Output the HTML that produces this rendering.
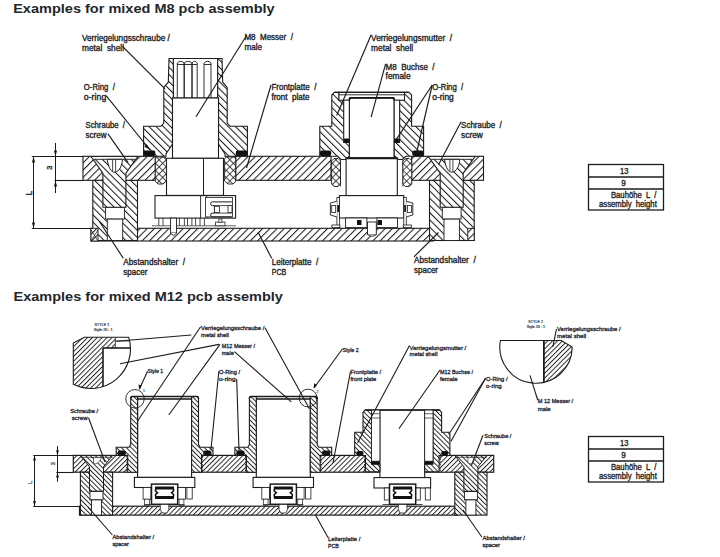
<!DOCTYPE html>
<html><head><meta charset="utf-8"><style>
html,body{margin:0;padding:0;background:#fff;width:720px;height:557px;overflow:hidden}
svg{display:block}
text{font-family:"Liberation Sans",sans-serif}
</style></head><body>
<svg width="720" height="557" viewBox="0 0 720 557">
<defs>
<pattern id="hb1" patternUnits="userSpaceOnUse" width="5.1" height="20" patternTransform="rotate(-45)"><rect width="5.1" height="20" fill="#fff"/><line x1="0.5" y1="0" x2="0.5" y2="20" stroke="#151515" stroke-width="1.0"/></pattern>
<pattern id="hf1" patternUnits="userSpaceOnUse" width="5.1" height="20" patternTransform="rotate(45)"><rect width="5.1" height="20" fill="#fff"/><line x1="0.5" y1="0" x2="0.5" y2="20" stroke="#151515" stroke-width="1.0"/></pattern>
<pattern id="hx1" patternUnits="userSpaceOnUse" width="5" height="5" patternTransform="rotate(45)"><rect width="5" height="5" fill="#fff"/><path d="M0.5,0 V5 M0,0.5 H5" stroke="#222" stroke-width="0.8"/></pattern>
<pattern id="hb2" patternUnits="userSpaceOnUse" width="3.45" height="20" patternTransform="rotate(-45)"><rect width="3.45" height="20" fill="#fff"/><line x1="0.5" y1="0" x2="0.5" y2="20" stroke="#151515" stroke-width="0.9"/></pattern>
<pattern id="hf2" patternUnits="userSpaceOnUse" width="3.45" height="20" patternTransform="rotate(45)"><rect width="3.45" height="20" fill="#fff"/><line x1="0.5" y1="0" x2="0.5" y2="20" stroke="#151515" stroke-width="0.9"/></pattern>
<pattern id="hx2" patternUnits="userSpaceOnUse" width="3.2" height="3.2" patternTransform="rotate(45)"><rect width="3.2" height="3.2" fill="#fff"/><path d="M0.5,0 V3.2 M0,0.5 H3.2" stroke="#222" stroke-width="0.7"/></pattern>
</defs>
<text xml:space="preserve" x="13.2" y="13.2" font-size="13" font-weight="bold" fill="#23262b" textLength="261.5" lengthAdjust="spacingAndGlyphs" >Examples for mixed M8 pcb assembly</text>
<text xml:space="preserve" x="13.5" y="300.8" font-size="13" font-weight="bold" fill="#23262b" textLength="269.4" lengthAdjust="spacingAndGlyphs" >Examples for mixed M12 pcb assembly</text>
<rect x="91.0" y="228.3" width="342.2" height="12.7" fill="url(#hf1)" stroke="#1c1c1c" stroke-width="1.1"/>
<rect x="92.8" y="180.3" width="44.7" height="60.2" fill="url(#hb1)" stroke="#1c1c1c" stroke-width="1.1"/>
<rect x="105.6" y="207.2" width="18.8" height="11.9" fill="#fff" stroke="#1c1c1c" stroke-width="0.9"/>
<rect x="107.3" y="219.1" width="15.4" height="21.4" fill="#fff" stroke="#1c1c1c" stroke-width="0.9"/>
<rect x="429.5" y="180.3" width="44.7" height="60.2" fill="url(#hb1)" stroke="#1c1c1c" stroke-width="1.1"/>
<rect x="442.3" y="207.2" width="18.8" height="11.9" fill="#fff" stroke="#1c1c1c" stroke-width="0.9"/>
<rect x="444.0" y="219.1" width="15.4" height="21.4" fill="#fff" stroke="#1c1c1c" stroke-width="0.9"/>
<rect x="91.0" y="228.3" width="7.0" height="12.7" fill="url(#hf1)" stroke="#1c1c1c" stroke-width="0.9"/>
<path d="M91,241 L98,230 M91,230 L98,241" stroke="#1c1c1c" stroke-width="0.8"/>
<rect x="467.8" y="228.3" width="6.4" height="12.2" fill="url(#hf1)" stroke="#1c1c1c" stroke-width="0.9"/>
<rect x="83.0" y="156.3" width="72.3" height="24.0" fill="url(#hf1)" stroke="#1c1c1c" stroke-width="1.1"/>
<rect x="235.7" y="156.3" width="95.3" height="24.0" fill="url(#hf1)" stroke="#1c1c1c" stroke-width="1.1"/>
<rect x="411.6" y="156.3" width="71.9" height="24.0" fill="url(#hf1)" stroke="#1c1c1c" stroke-width="1.1"/>
<polygon points="91.1,156.5 137.7,156.5 125.9,173.2 125.9,207.2 102.9,207.2 102.9,173.2" fill="url(#hb1)" stroke="#1c1c1c" stroke-width="1.1" stroke-linejoin="miter" />
<polygon points="91.1,156.5 137.7,156.5 135.6,159.3 93.2,159.3" fill="#fff" stroke="#1c1c1c" stroke-width="0.9" stroke-linejoin="miter" />
<path d="M107.2,159.3 C108.4,168 111.4,172.2 114.4,172.2 C119.4,172.2 122.4,165 122.4,159.3 Z" fill="#fff" stroke="#1c1c1c" stroke-width="1.0"/>
<line x1="112.6" y1="159.5" x2="112.6" y2="171.5" stroke="#1c1c1c" stroke-width="0.8"/>
<line x1="115.6" y1="159.5" x2="115.6" y2="171.5" stroke="#1c1c1c" stroke-width="0.8"/>
<polygon points="428.4,156.5 475.0,156.5 463.2,173.2 463.2,207.2 440.2,207.2 440.2,173.2" fill="url(#hb1)" stroke="#1c1c1c" stroke-width="1.1" stroke-linejoin="miter" />
<polygon points="428.4,156.5 475.0,156.5 472.9,159.3 430.5,159.3" fill="#fff" stroke="#1c1c1c" stroke-width="0.9" stroke-linejoin="miter" />
<path d="M444.5,159.3 C445.7,168 448.7,172.2 451.7,172.2 C456.7,172.2 459.7,165 459.7,159.3 Z" fill="#fff" stroke="#1c1c1c" stroke-width="1.0"/>
<line x1="449.9" y1="159.5" x2="449.9" y2="171.5" stroke="#1c1c1c" stroke-width="0.8"/>
<line x1="452.9" y1="159.5" x2="452.9" y2="171.5" stroke="#1c1c1c" stroke-width="0.8"/>
<rect x="173.3" y="58.5" width="44.4" height="39.5" fill="#fff" stroke="#1c1c1c" stroke-width="1.0"/>
<path d="M177.3,98 L177.3,63 Q180.75,59.5 184.2,63 L184.2,98 M177.3,64.5 L184.2,64.5" fill="none" stroke="#1c1c1c" stroke-width="0.9"/>
<path d="M184.2,98 L184.2,63 Q188.1,59.5 192,63 L192,98 M184.2,64.5 L192,64.5" fill="none" stroke="#1c1c1c" stroke-width="0.9"/>
<path d="M192,98 L192,63 Q194.6,59.5 197.2,63 L197.2,98 M192,64.5 L197.2,64.5" fill="none" stroke="#1c1c1c" stroke-width="0.9"/>
<path d="M204,98 L204,63 Q207.5,59.5 211,63 L211,98 M204,64.5 L211,64.5" fill="none" stroke="#1c1c1c" stroke-width="0.9"/>
<polygon points="169.0,58.5 173.3,58.5 173.3,98.0 172.5,98.0 172.5,144.0 166.0,154.0 166.0,156.3 143.6,156.3 143.6,126.2 161.0,126.2 163.8,123.0 163.8,87.5 168.3,82.2" fill="url(#hb1)" stroke="#1c1c1c" stroke-width="1.1" stroke-linejoin="miter" />
<polygon points="222.0,58.5 217.7,58.5 217.7,98.0 218.5,98.0 218.5,144.0 225.0,154.0 225.0,156.3 247.4,156.3 247.4,126.2 230.0,126.2 227.2,123.0 227.2,87.5 222.7,82.2" fill="url(#hb1)" stroke="#1c1c1c" stroke-width="1.1" stroke-linejoin="miter" />
<line x1="169.0" y1="58.5" x2="222.0" y2="58.5" stroke="#1c1c1c" stroke-width="1.2"/>
<rect x="172.5" y="98.0" width="46.0" height="60.3" fill="#fff" stroke="#1c1c1c" stroke-width="1.1"/>
<rect x="166.5" y="158.3" width="57.0" height="37.1" fill="#fff" stroke="#1c1c1c" stroke-width="1.1"/>
<line x1="203.5" y1="158.3" x2="203.5" y2="195.6" stroke="#1c1c1c" stroke-width="1.0"/>
<polygon points="155.3,157.0 165.2,157.0 166.4,159.0 166.4,181.0 163.0,184.0 158.0,184.0 155.3,181.5" fill="url(#hx1)" stroke="#1c1c1c" stroke-width="0.9" stroke-linejoin="miter" />
<polygon points="235.7,157.0 225.8,157.0 224.6,159.0 224.6,181.0 228.0,184.0 233.0,184.0 235.7,181.5" fill="url(#hx1)" stroke="#1c1c1c" stroke-width="0.9" stroke-linejoin="miter" />
<rect x="155.0" y="195.6" width="80.6" height="22.5" fill="#fff" stroke="#1c1c1c" stroke-width="1.1"/>
<line x1="200.6" y1="195.6" x2="200.6" y2="218.1" stroke="#1c1c1c" stroke-width="0.9"/>
<line x1="206.5" y1="196.0" x2="206.5" y2="218.1" stroke="#555" stroke-width="1.3"/>
<rect x="205.8" y="205.0" width="1.6" height="8.0" rx="0.3" fill="#111"/>
<rect x="205.6" y="197.5" width="26.9" height="19.4" fill="#fff" stroke="#1c1c1c" stroke-width="0.8"/>
<path d="M231.9,201.9 H212.5 Q210.6,201.9 210.6,203.7 Q210.6,205.6 212.5,205.6 H214.4 V213.1 H212.5 Q210.6,213.1 210.6,215 Q210.6,216.9 212.5,216.9 H231.9" fill="none" stroke="#1c1c1c" stroke-width="1.0"/>
<line x1="214.4" y1="205.6" x2="231.9" y2="205.6" stroke="#1c1c1c" stroke-width="0.8"/>
<line x1="214.4" y1="213.1" x2="231.9" y2="213.1" stroke="#1c1c1c" stroke-width="0.8"/>
<rect x="214.4" y="206.3" width="5.0" height="6.1" fill="#fff" stroke="#1c1c1c" stroke-width="0.8"/>
<rect x="228.0" y="205.6" width="4.0" height="6.8" fill="#fff" stroke="#1c1c1c" stroke-width="0.8"/>
<line x1="152.0" y1="225.8" x2="236.0" y2="225.8" stroke="#1c1c1c" stroke-width="0.7"/>
<line x1="158.8" y1="218.1" x2="158.8" y2="225.8" stroke="#1c1c1c" stroke-width="0.8"/>
<line x1="163.0" y1="218.1" x2="163.0" y2="225.8" stroke="#1c1c1c" stroke-width="0.8"/>
<line x1="179.4" y1="218.1" x2="179.4" y2="225.8" stroke="#1c1c1c" stroke-width="0.8"/>
<line x1="184.4" y1="218.1" x2="184.4" y2="225.8" stroke="#1c1c1c" stroke-width="0.8"/>
<line x1="187.5" y1="218.1" x2="187.5" y2="225.8" stroke="#1c1c1c" stroke-width="0.8"/>
<line x1="191.9" y1="218.1" x2="191.9" y2="225.8" stroke="#1c1c1c" stroke-width="0.8"/>
<line x1="195.6" y1="218.1" x2="195.6" y2="225.8" stroke="#1c1c1c" stroke-width="0.8"/>
<line x1="200.0" y1="218.1" x2="200.0" y2="225.8" stroke="#1c1c1c" stroke-width="0.8"/>
<line x1="204.4" y1="218.1" x2="204.4" y2="225.8" stroke="#1c1c1c" stroke-width="0.8"/>
<rect x="170.6" y="218.1" width="5.9" height="14.9" fill="#fff" stroke="#1c1c1c" stroke-width="0.9"/>
<path d="M170.6,233 Q173.5,237.5 176.5,233" fill="#fff" stroke="#1c1c1c" stroke-width="0.9"/>
<rect x="215.6" y="222.1" width="9.4" height="3.7" fill="#fff" stroke="#1c1c1c" stroke-width="0.8"/>
<rect x="218.8" y="219.1" width="3.2" height="3.0" fill="#fff" stroke="#1c1c1c" stroke-width="0.7"/>
<rect x="143.6" y="150.4" width="11.7" height="5.6" rx="1.5" fill="#111"/>
<rect x="235.8" y="150.4" width="11.6" height="5.6" rx="1.5" fill="#111"/>
<polygon points="331.8,95.0 334.5,92.2 339.0,92.2 339.0,100.2 343.8,100.2 343.8,142.5 349.4,142.5 349.4,156.3 345.5,159.5 341.0,159.5 337.5,156.3 319.8,156.3 319.8,126.2 331.8,126.2" fill="url(#hb1)" stroke="#1c1c1c" stroke-width="1.1" stroke-linejoin="miter" />
<polygon points="411.6,95.0 408.9,92.2 404.4,92.2 404.4,100.2 399.6,100.2 399.6,142.5 394.0,142.5 394.0,156.3 397.9,159.5 402.4,159.5 405.9,156.3 423.6,156.3 423.6,126.2 411.6,126.2" fill="url(#hb1)" stroke="#1c1c1c" stroke-width="1.1" stroke-linejoin="miter" />
<rect x="339.0" y="92.2" width="65.4" height="8.0" fill="#fff" stroke="#1c1c1c" stroke-width="0.9"/>
<line x1="334.5" y1="92.3" x2="408.9" y2="92.3" stroke="#1c1c1c" stroke-width="1.3"/>
<line x1="339.0" y1="94.8" x2="404.4" y2="94.8" stroke="#1c1c1c" stroke-width="0.9"/>
<rect x="343.8" y="100.2" width="5.6" height="42.3" fill="#fff" stroke="#1c1c1c" stroke-width="0.9"/>
<rect x="394.0" y="100.2" width="5.6" height="42.3" fill="#fff" stroke="#1c1c1c" stroke-width="0.9"/>
<rect x="349.4" y="97.8" width="44.6" height="60.0" fill="#fff" stroke="#1c1c1c" stroke-width="1.1"/>
<path d="M349.4,100 Q349.4,97.8 351.6,97.8 L391.8,97.8 Q394,97.8 394,100" fill="none" stroke="#111" stroke-width="1.8"/>
<rect x="346.1" y="157.8" width="51.2" height="37.8" fill="#fff" stroke="#1c1c1c" stroke-width="1.1"/>
<line x1="346.1" y1="158.3" x2="397.3" y2="158.3" stroke="#1c1c1c" stroke-width="1.8"/>
<line x1="340.5" y1="159.5" x2="340.5" y2="186.5" stroke="#1c1c1c" stroke-width="0.8"/>
<line x1="402.9" y1="159.5" x2="402.9" y2="186.5" stroke="#1c1c1c" stroke-width="0.8"/>
<rect x="343.8" y="138.5" width="5.6" height="4.0" rx="1" fill="#111"/>
<rect x="394.0" y="138.5" width="5.6" height="4.0" rx="1" fill="#111"/>
<rect x="319.8" y="150.5" width="11.4" height="5.6" rx="2" fill="#111"/>
<rect x="412.2" y="150.5" width="11.4" height="5.6" rx="2" fill="#111"/>
<polygon points="334.1,158.5 338.0,158.5 340.5,161.0 340.5,184.0 338.0,186.5 334.1,186.5 331.6,184.0 331.6,161.0" fill="url(#hx1)" stroke="#1c1c1c" stroke-width="0.9" stroke-linejoin="miter" />
<polygon points="405.4,158.5 409.3,158.5 411.8,161.0 411.8,184.0 409.3,186.5 405.4,186.5 402.9,184.0 402.9,161.0" fill="url(#hx1)" stroke="#1c1c1c" stroke-width="0.9" stroke-linejoin="miter" />
<rect x="339.4" y="195.6" width="64.4" height="22.4" fill="#fff" stroke="#1c1c1c" stroke-width="1.1"/>
<rect x="345.6" y="218.0" width="21.3" height="9.6" fill="#fff" stroke="#1c1c1c" stroke-width="0.9"/>
<rect x="376.9" y="218.0" width="20.6" height="9.6" fill="#fff" stroke="#1c1c1c" stroke-width="0.9"/>
<rect x="357.0" y="220.0" width="4.5" height="5.0" rx="0.5" fill="#111"/>
<rect x="377.5" y="220.0" width="4.5" height="5.0" rx="0.5" fill="#111"/>
<rect x="367.5" y="222.0" width="8.8" height="12.5" fill="#fff" stroke="#1c1c1c" stroke-width="0.9"/>
<path d="M367.5,234.5 Q372,238 376.3,234.5" fill="#fff" stroke="#1c1c1c" stroke-width="0.9"/>
<rect x="336.9" y="197.5" width="2.5" height="30.1" fill="#fff" stroke="#1c1c1c" stroke-width="0.8"/>
<path d="M336.9,201.3 L330.4,203 L330.4,215 L336.9,216.9" fill="#fff" stroke="#1c1c1c" stroke-width="0.9"/>
<rect x="331.7" y="205.5" width="4.0" height="7.0" fill="#fff" stroke="#1c1c1c" stroke-width="0.8"/>
<rect x="337.3" y="205.0" width="1.7" height="7.0" rx="0.2" fill="#111"/>
<rect x="331.9" y="225.0" width="8.0" height="2.6" fill="#fff" stroke="#1c1c1c" stroke-width="0.8"/>
<rect x="403.8" y="197.5" width="2.5" height="30.1" fill="#fff" stroke="#1c1c1c" stroke-width="0.8"/>
<path d="M406.3,201.3 L412.8,203 L412.8,215 L406.3,216.9" fill="#fff" stroke="#1c1c1c" stroke-width="0.9"/>
<rect x="407.5" y="205.5" width="4.0" height="7.0" fill="#fff" stroke="#1c1c1c" stroke-width="0.8"/>
<rect x="404.2" y="205.0" width="1.7" height="7.0" rx="0.2" fill="#111"/>
<rect x="403.3" y="225.0" width="8.0" height="2.6" fill="#fff" stroke="#1c1c1c" stroke-width="0.8"/>
<line x1="31.8" y1="156.5" x2="83.0" y2="156.5" stroke="#1c1c1c" stroke-width="1.1"/>
<line x1="54.5" y1="180.5" x2="83.0" y2="180.5" stroke="#1c1c1c" stroke-width="1.1"/>
<line x1="31.8" y1="228.5" x2="91.0" y2="228.5" stroke="#1c1c1c" stroke-width="1.1"/>
<line x1="33.5" y1="156.5" x2="33.5" y2="228.5" stroke="#1c1c1c" stroke-width="1.0"/>
<polygon points="33.5,156.5 32.0,162.5 35.0,162.5" fill="#111"/>
<polygon points="33.5,228.5 32.0,222.5 35.0,222.5" fill="#111"/>
<line x1="55.5" y1="143.0" x2="55.5" y2="193.0" stroke="#1c1c1c" stroke-width="1.0"/>
<polygon points="55.5,156.5 54.0,150.5 57.0,150.5" fill="#111"/>
<polygon points="55.5,180.5 54.0,186.5 57.0,186.5" fill="#111"/>
<text xml:space="preserve" x="0" y="0" font-size="8.5" font-weight="normal" fill="#222" stroke="#222" stroke-width="0.34" transform="translate(32.2,195.5) rotate(-90)">L</text>
<text xml:space="preserve" x="0" y="0" font-size="7.5" font-weight="normal" fill="#222" stroke="#222" stroke-width="0.34" transform="translate(52.4,169.8) rotate(-90)">3</text>
<rect x="588.5" y="164.5" width="75.0" height="45.5" fill="#fff" stroke="#1c1c1c" stroke-width="1.3"/>
<line x1="588.5" y1="177.0" x2="663.5" y2="177.0" stroke="#1c1c1c" stroke-width="1.3"/>
<line x1="588.5" y1="189.0" x2="663.5" y2="189.0" stroke="#1c1c1c" stroke-width="1.3"/>
<text xml:space="preserve" x="620" y="174.1" font-size="8.2" font-weight="normal" fill="#222" stroke="#222" stroke-width="0.34" textLength="8.4" lengthAdjust="spacingAndGlyphs" >13</text>
<text xml:space="preserve" x="621.3" y="185.5" font-size="8.2" font-weight="normal" fill="#222" stroke="#222" stroke-width="0.34" >9</text>
<text xml:space="preserve" x="611" y="197.5" font-size="8.2" font-weight="normal" fill="#222" stroke="#222" stroke-width="0.34" textLength="45.3" lengthAdjust="spacingAndGlyphs" >Bauhöhe  L  /</text>
<text xml:space="preserve" x="599" y="207.0" font-size="8.2" font-weight="normal" fill="#222" stroke="#222" stroke-width="0.34" textLength="57.8" lengthAdjust="spacingAndGlyphs" >assembly  height</text>
<line x1="122.5" y1="46.3" x2="165.0" y2="88.8" stroke="#1c1c1c" stroke-width="1.15"/>
<line x1="246.4" y1="35.8" x2="196.0" y2="116.8" stroke="#1c1c1c" stroke-width="1.15"/>
<line x1="106.3" y1="95.8" x2="150.0" y2="150.0" stroke="#1c1c1c" stroke-width="1.15"/>
<line x1="108.0" y1="133.8" x2="128.1" y2="162.7" stroke="#1c1c1c" stroke-width="1.15"/>
<line x1="271.0" y1="85.0" x2="246.5" y2="168.0" stroke="#1c1c1c" stroke-width="1.15"/>
<line x1="371.1" y1="35.0" x2="336.7" y2="115.5" stroke="#1c1c1c" stroke-width="1.15"/>
<line x1="385.6" y1="63.9" x2="371.1" y2="117.2" stroke="#1c1c1c" stroke-width="1.15"/>
<line x1="432.2" y1="85.0" x2="395.5" y2="140.6" stroke="#1c1c1c" stroke-width="1.15"/>
<line x1="432.2" y1="85.0" x2="417.0" y2="151.0" stroke="#1c1c1c" stroke-width="1.15"/>
<line x1="461.1" y1="121.7" x2="438.5" y2="164.7" stroke="#1c1c1c" stroke-width="1.15"/>
<line x1="123.3" y1="258.3" x2="99.6" y2="221.7" stroke="#1c1c1c" stroke-width="1.15"/>
<line x1="271.7" y1="258.3" x2="258.0" y2="232.0" stroke="#1c1c1c" stroke-width="1.15"/>
<line x1="414.0" y1="256.8" x2="438.5" y2="232.5" stroke="#1c1c1c" stroke-width="1.15"/>
<polygon points="149.5,149.5 144.2,146.5 146.8,144.2" fill="#111"/>
<text xml:space="preserve" x="82" y="40.8" font-size="8.4" font-weight="normal" fill="#222" stroke="#222" stroke-width="0.34" textLength="87.7" lengthAdjust="spacingAndGlyphs" >Verriegelungsschraube /</text>
<text xml:space="preserve" x="82" y="50.9" font-size="8.4" font-weight="normal" fill="#222" stroke="#222" stroke-width="0.34" textLength="42" lengthAdjust="spacingAndGlyphs" >metal  shell</text>
<text xml:space="preserve" x="244.4" y="39.6" font-size="8.4" font-weight="normal" fill="#222" stroke="#222" stroke-width="0.34" textLength="48.5" lengthAdjust="spacingAndGlyphs" >M8  Messer  /</text>
<text xml:space="preserve" x="244.4" y="50.0" font-size="8.4" font-weight="normal" fill="#222" stroke="#222" stroke-width="0.34" textLength="17.6" lengthAdjust="spacingAndGlyphs" >male</text>
<text xml:space="preserve" x="83.8" y="89.8" font-size="8.4" font-weight="normal" fill="#222" stroke="#222" stroke-width="0.34" textLength="31" lengthAdjust="spacingAndGlyphs" >O-Ring  /</text>
<text xml:space="preserve" x="83.8" y="99.8" font-size="8.4" font-weight="normal" fill="#222" stroke="#222" stroke-width="0.34" textLength="22.5" lengthAdjust="spacingAndGlyphs" >o-ring</text>
<text xml:space="preserve" x="85.5" y="127.8" font-size="8.4" font-weight="normal" fill="#222" stroke="#222" stroke-width="0.34" textLength="39.5" lengthAdjust="spacingAndGlyphs" >Schraube  /</text>
<text xml:space="preserve" x="85.5" y="137.8" font-size="8.4" font-weight="normal" fill="#222" stroke="#222" stroke-width="0.34" textLength="21" lengthAdjust="spacingAndGlyphs" >screw</text>
<text xml:space="preserve" x="271.4" y="90.0" font-size="8.4" font-weight="normal" fill="#222" stroke="#222" stroke-width="0.34" textLength="45" lengthAdjust="spacingAndGlyphs" >Frontplatte  /</text>
<text xml:space="preserve" x="271.4" y="100.0" font-size="8.4" font-weight="normal" fill="#222" stroke="#222" stroke-width="0.34" textLength="38" lengthAdjust="spacingAndGlyphs" >front  plate</text>
<text xml:space="preserve" x="371.1" y="40.8" font-size="8.4" font-weight="normal" fill="#222" stroke="#222" stroke-width="0.34" textLength="81" lengthAdjust="spacingAndGlyphs" >Verriegelungsmutter  /</text>
<text xml:space="preserve" x="371.1" y="50.8" font-size="8.4" font-weight="normal" fill="#222" stroke="#222" stroke-width="0.34" textLength="42" lengthAdjust="spacingAndGlyphs" >metal  shell</text>
<text xml:space="preserve" x="385.6" y="69.8" font-size="8.4" font-weight="normal" fill="#222" stroke="#222" stroke-width="0.34" textLength="49" lengthAdjust="spacingAndGlyphs" >M8  Buchse  /</text>
<text xml:space="preserve" x="385.6" y="78.8" font-size="8.4" font-weight="normal" fill="#222" stroke="#222" stroke-width="0.34" textLength="25" lengthAdjust="spacingAndGlyphs" >female</text>
<text xml:space="preserve" x="432.2" y="89.8" font-size="8.4" font-weight="normal" fill="#222" stroke="#222" stroke-width="0.34" textLength="31" lengthAdjust="spacingAndGlyphs" >O-Ring  /</text>
<text xml:space="preserve" x="432.2" y="99.8" font-size="8.4" font-weight="normal" fill="#222" stroke="#222" stroke-width="0.34" textLength="21.6" lengthAdjust="spacingAndGlyphs" >o-ring</text>
<text xml:space="preserve" x="461.1" y="127.6" font-size="8.4" font-weight="normal" fill="#222" stroke="#222" stroke-width="0.34" textLength="40.7" lengthAdjust="spacingAndGlyphs" >Schraube  /</text>
<text xml:space="preserve" x="461.1" y="137.6" font-size="8.4" font-weight="normal" fill="#222" stroke="#222" stroke-width="0.34" textLength="21.8" lengthAdjust="spacingAndGlyphs" >screw</text>
<text xml:space="preserve" x="123.3" y="265.4" font-size="8.4" font-weight="normal" fill="#222" stroke="#222" stroke-width="0.34" textLength="61.7" lengthAdjust="spacingAndGlyphs" >Abstandshalter  /</text>
<text xml:space="preserve" x="123.3" y="275.4" font-size="8.4" font-weight="normal" fill="#222" stroke="#222" stroke-width="0.34" textLength="24" lengthAdjust="spacingAndGlyphs" >spacer</text>
<text xml:space="preserve" x="271.7" y="265.4" font-size="8.4" font-weight="normal" fill="#222" stroke="#222" stroke-width="0.34" textLength="46.6" lengthAdjust="spacingAndGlyphs" >Leiterplatte  /</text>
<text xml:space="preserve" x="271.7" y="275.4" font-size="8.4" font-weight="normal" fill="#222" stroke="#222" stroke-width="0.34" textLength="14.5" lengthAdjust="spacingAndGlyphs" >PCB</text>
<text xml:space="preserve" x="414" y="263.0" font-size="8.4" font-weight="normal" fill="#222" stroke="#222" stroke-width="0.34" textLength="61.7" lengthAdjust="spacingAndGlyphs" >Abstandshalter  /</text>
<text xml:space="preserve" x="414" y="273.0" font-size="8.4" font-weight="normal" fill="#222" stroke="#222" stroke-width="0.34" textLength="24" lengthAdjust="spacingAndGlyphs" >spacer</text>
<rect x="79.5" y="506.2" width="378.3" height="8.9" fill="url(#hf2)" stroke="#1c1c1c" stroke-width="1.2"/>
<rect x="73.3" y="455.4" width="420.4" height="16.8" fill="url(#hf2)" stroke="#1c1c1c" stroke-width="1.2"/>
<rect x="80.4" y="472.2" width="32.2" height="42.9" fill="url(#hb2)" stroke="#1c1c1c" stroke-width="1.1"/>
<polygon points="80.5,455.6 112.5,455.6 103.5,466.8 103.5,491.2 89.5,491.2 89.5,466.8" fill="url(#hb2)" stroke="#1c1c1c" stroke-width="1.0" stroke-linejoin="miter" />
<rect x="90.0" y="491.5" width="13.0" height="8.4" fill="#fff" stroke="#1c1c1c" stroke-width="0.9"/>
<rect x="91.5" y="499.9" width="10.0" height="15.2" fill="#fff" stroke="#1c1c1c" stroke-width="0.9"/>
<line x1="80.5" y1="457.4" x2="112.5" y2="457.4" stroke="#1c1c1c" stroke-width="0.6"/>
<path d="M93.5,457.6 L93.5,463 Q97.5,466 101.5,457.6 Z" fill="#fff" stroke="#1c1c1c" stroke-width="0.6"/>
<rect x="454.8" y="472.2" width="32.2" height="42.9" fill="url(#hb2)" stroke="#1c1c1c" stroke-width="1.1"/>
<polygon points="454.9,455.6 486.9,455.6 477.9,466.8 477.9,491.2 463.9,491.2 463.9,466.8" fill="url(#hb2)" stroke="#1c1c1c" stroke-width="1.0" stroke-linejoin="miter" />
<rect x="464.4" y="491.5" width="13.0" height="8.4" fill="#fff" stroke="#1c1c1c" stroke-width="0.9"/>
<rect x="465.9" y="499.9" width="10.0" height="15.2" fill="#fff" stroke="#1c1c1c" stroke-width="0.9"/>
<line x1="454.9" y1="457.4" x2="486.9" y2="457.4" stroke="#1c1c1c" stroke-width="0.6"/>
<path d="M467.9,457.6 L467.9,463 Q471.9,466 475.9,457.6 Z" fill="#fff" stroke="#1c1c1c" stroke-width="0.6"/>
<rect x="137.6" y="399.0" width="54.0" height="78.4" fill="#fff" stroke="#1c1c1c" stroke-width="1.1"/>
<polygon points="130.7,398.2 132.2,396.5 137.6,396.5 137.6,472.2 127.7,472.2 127.7,455.4 116.2,455.4 116.2,447.2 129.1,447.2 130.7,444.5" fill="url(#hb2)" stroke="#1c1c1c" stroke-width="1.1" stroke-linejoin="miter" />
<polygon points="198.5,398.2 197.0,396.5 191.6,396.5 191.6,472.2 201.5,472.2 201.5,455.4 213.0,455.4 213.0,447.2 200.1,447.2 198.5,444.5" fill="url(#hb2)" stroke="#1c1c1c" stroke-width="1.1" stroke-linejoin="miter" />
<path d="M130.65,399 L130.65,398 Q130.65,396.5 132.15,396.5 L196.95000000000002,396.5 Q198.45000000000002,396.5 198.45000000000002,398 L198.45000000000002,399" fill="none" stroke="#1c1c1c" stroke-width="1.4"/>
<line x1="137.6" y1="399.0" x2="191.6" y2="399.0" stroke="#1c1c1c" stroke-width="1.1"/>
<rect x="117.6" y="450.6" width="8.3" height="4.8" rx="2.2" fill="#111"/>
<rect x="203.2" y="450.6" width="8.3" height="4.8" rx="2.2" fill="#111"/>
<line x1="126.75000000000001" y1="456" x2="126.75000000000001" y2="472" stroke="#1c1c1c" stroke-width="0.9" stroke-dasharray="1.5,1.2"/>
<line x1="202.35000000000002" y1="456" x2="202.35000000000002" y2="472" stroke="#1c1c1c" stroke-width="0.9" stroke-dasharray="1.5,1.2"/>
<rect x="134.4" y="477.4" width="60.4" height="10.1" fill="#fff" stroke="#1c1c1c" stroke-width="1.1"/>
<rect x="143.1" y="487.5" width="7.8" height="11.7" fill="#fff" stroke="#1c1c1c" stroke-width="0.8"/>
<rect x="144.6" y="499.2" width="4.8" height="6.3" fill="#fff" stroke="#1c1c1c" stroke-width="0.7"/>
<rect x="177.6" y="487.5" width="7.8" height="11.7" fill="#fff" stroke="#1c1c1c" stroke-width="0.8"/>
<rect x="179.1" y="499.2" width="4.8" height="6.3" fill="#fff" stroke="#1c1c1c" stroke-width="0.7"/>
<rect x="186.9" y="487.5" width="5.3" height="11.5" fill="#fff" stroke="#1c1c1c" stroke-width="0.8"/>
<rect x="151.5" y="484.1" width="26.2" height="20.2" fill="#fff" stroke="#1c1c1c" stroke-width="1.5"/>
<rect x="155.05" y="486.5" width="19" height="3" fill="#111"/><rect x="155.05" y="496" width="19" height="3" fill="#111"/>
<path d="M155.55,489 V491 L157.55,492.7 L155.55,494.5 V496.5 M173.55,489 V491 L171.55,492.7 L173.55,494.5 V496.5" fill="none" stroke="#111" stroke-width="1.6"/>
<path d="M160.25,504.3 V509.5 L162.05,513 H167.05 L168.85000000000002,509.5 V504.3" fill="#fff" stroke="#1c1c1c" stroke-width="0.8"/>
<line x1="144.55" y1="504.5" x2="184.55" y2="504.5" stroke="#1c1c1c" stroke-width="0.8"/>
<rect x="256.3" y="399.0" width="54.0" height="78.4" fill="#fff" stroke="#1c1c1c" stroke-width="1.1"/>
<polygon points="249.4,398.2 250.9,396.5 256.3,396.5 256.3,472.2 246.4,472.2 246.4,455.4 234.9,455.4 234.9,447.2 247.8,447.2 249.4,444.5" fill="url(#hb2)" stroke="#1c1c1c" stroke-width="1.1" stroke-linejoin="miter" />
<polygon points="317.2,398.2 315.7,396.5 310.3,396.5 310.3,472.2 320.2,472.2 320.2,455.4 331.7,455.4 331.7,447.2 318.8,447.2 317.2,444.5" fill="url(#hb2)" stroke="#1c1c1c" stroke-width="1.1" stroke-linejoin="miter" />
<path d="M249.4,399 L249.4,398 Q249.4,396.5 250.9,396.5 L315.7,396.5 Q317.2,396.5 317.2,398 L317.2,399" fill="none" stroke="#1c1c1c" stroke-width="1.4"/>
<line x1="256.3" y1="399.0" x2="310.3" y2="399.0" stroke="#1c1c1c" stroke-width="1.1"/>
<rect x="236.3" y="450.6" width="8.3" height="4.8" rx="2.2" fill="#111"/>
<rect x="322.0" y="450.6" width="8.3" height="4.8" rx="2.2" fill="#111"/>
<line x1="245.5" y1="456" x2="245.5" y2="472" stroke="#1c1c1c" stroke-width="0.9" stroke-dasharray="1.5,1.2"/>
<line x1="321.1" y1="456" x2="321.1" y2="472" stroke="#1c1c1c" stroke-width="0.9" stroke-dasharray="1.5,1.2"/>
<rect x="253.1" y="477.4" width="60.4" height="10.1" fill="#fff" stroke="#1c1c1c" stroke-width="1.1"/>
<rect x="261.8" y="487.5" width="7.8" height="11.7" fill="#fff" stroke="#1c1c1c" stroke-width="0.8"/>
<rect x="263.3" y="499.2" width="4.8" height="6.3" fill="#fff" stroke="#1c1c1c" stroke-width="0.7"/>
<rect x="296.3" y="487.5" width="7.8" height="11.7" fill="#fff" stroke="#1c1c1c" stroke-width="0.8"/>
<rect x="297.8" y="499.2" width="4.8" height="6.3" fill="#fff" stroke="#1c1c1c" stroke-width="0.7"/>
<rect x="305.6" y="487.5" width="5.3" height="11.5" fill="#fff" stroke="#1c1c1c" stroke-width="0.8"/>
<rect x="270.2" y="484.1" width="26.2" height="20.2" fill="#fff" stroke="#1c1c1c" stroke-width="1.5"/>
<rect x="273.8" y="486.5" width="19" height="3" fill="#111"/><rect x="273.8" y="496" width="19" height="3" fill="#111"/>
<path d="M274.3,489 V491 L276.3,492.7 L274.3,494.5 V496.5 M292.3,489 V491 L290.3,492.7 L292.3,494.5 V496.5" fill="none" stroke="#111" stroke-width="1.6"/>
<path d="M279.0,504.3 V509.5 L280.8,513 H285.8 L287.6,509.5 V504.3" fill="#fff" stroke="#1c1c1c" stroke-width="0.8"/>
<line x1="263.3" y1="504.5" x2="303.3" y2="504.5" stroke="#1c1c1c" stroke-width="0.8"/>
<rect x="379.9" y="410.1" width="44.8" height="67.5" fill="#fff" stroke="#1c1c1c" stroke-width="1.1"/>
<polygon points="363.0,412.3 365.0,410.1 371.6,410.1 371.6,464.1 379.9,464.1 379.9,471.7 365.5,471.7 365.5,455.5 354.7,455.5 354.7,432.3 363.0,432.3" fill="url(#hb2)" stroke="#1c1c1c" stroke-width="1.1" stroke-linejoin="miter" />
<polygon points="441.6,412.3 439.6,410.1 433.0,410.1 433.0,464.1 424.7,464.1 424.7,471.7 439.1,471.7 439.1,455.5 449.9,455.5 449.9,432.3 441.6,432.3" fill="url(#hb2)" stroke="#1c1c1c" stroke-width="1.1" stroke-linejoin="miter" />
<line x1="365.0" y1="410.1" x2="439.6" y2="410.1" stroke="#1c1c1c" stroke-width="1.5"/>
<line x1="364.5" y1="456" x2="364.5" y2="471.5" stroke="#1c1c1c" stroke-width="0.9" stroke-dasharray="1.5,1.2"/>
<line x1="440.3" y1="456" x2="440.3" y2="471.5" stroke="#1c1c1c" stroke-width="0.9" stroke-dasharray="1.5,1.2"/>
<rect x="371.6" y="410.1" width="8.3" height="51.1" fill="#fff" stroke="#1c1c1c" stroke-width="0.8"/>
<line x1="371.6" y1="413.7" x2="379.9" y2="413.7" stroke="#1c1c1c" stroke-width="0.7"/>
<line x1="371.6" y1="418.0" x2="379.9" y2="418.0" stroke="#1c1c1c" stroke-width="0.7"/>
<rect x="371.6" y="461.2" width="8.3" height="3.0" rx="0.6" fill="#111"/>
<rect x="424.7" y="410.1" width="8.3" height="51.1" fill="#fff" stroke="#1c1c1c" stroke-width="0.8"/>
<line x1="424.7" y1="413.7" x2="433.0" y2="413.7" stroke="#1c1c1c" stroke-width="0.7"/>
<line x1="424.7" y1="418.0" x2="433.0" y2="418.0" stroke="#1c1c1c" stroke-width="0.7"/>
<rect x="424.7" y="461.2" width="8.3" height="3.0" rx="0.6" fill="#111"/>
<rect x="356.3" y="451.0" width="7.2" height="4.3" rx="2" fill="#111"/>
<rect x="441.1" y="451.0" width="7.2" height="4.3" rx="2" fill="#111"/>
<rect x="374.0" y="477.6" width="56.6" height="10.4" fill="#fff" stroke="#1c1c1c" stroke-width="1.1"/>
<rect x="384.3" y="488.0" width="5.0" height="12.0" fill="#fff" stroke="#1c1c1c" stroke-width="0.8"/>
<rect x="415.3" y="488.0" width="5.0" height="12.0" fill="#fff" stroke="#1c1c1c" stroke-width="0.8"/>
<rect x="425.3" y="488.0" width="5.0" height="12.0" fill="#fff" stroke="#1c1c1c" stroke-width="0.8"/>
<rect x="389.5" y="484.1" width="26.2" height="20.2" fill="#fff" stroke="#1c1c1c" stroke-width="1.5"/>
<rect x="393.1" y="486.5" width="19" height="3" fill="#111"/><rect x="393.1" y="496" width="19" height="3" fill="#111"/>
<path d="M393.6,489 V491 L395.6,492.7 L393.6,494.5 V496.5 M411.6,489 V491 L409.6,492.7 L411.6,494.5 V496.5" fill="none" stroke="#111" stroke-width="1.6"/>
<path d="M398.3,504.3 V509.5 L400.1,513 H405.1 L406.90000000000003,509.5 V504.3" fill="#fff" stroke="#1c1c1c" stroke-width="0.8"/>
<line x1="382.6" y1="504.5" x2="422.6" y2="504.5" stroke="#1c1c1c" stroke-width="0.8"/>
<line x1="33.3" y1="455.5" x2="73.3" y2="455.5" stroke="#1c1c1c" stroke-width="1.1"/>
<line x1="56.4" y1="472.5" x2="73.3" y2="472.5" stroke="#1c1c1c" stroke-width="1.1"/>
<line x1="33.3" y1="506.5" x2="80.6" y2="506.5" stroke="#1c1c1c" stroke-width="1.1"/>
<line x1="34.5" y1="455.4" x2="34.5" y2="506.3" stroke="#1c1c1c" stroke-width="1.0"/>
<polygon points="34.5,455.4 33.1,460.59999999999997 35.9,460.59999999999997" fill="#111"/>
<polygon points="34.5,506.3 33.1,501.1 35.9,501.1" fill="#111"/>
<line x1="57.5" y1="446.2" x2="57.5" y2="481.7" stroke="#1c1c1c" stroke-width="1.0"/>
<polygon points="57.5,455.4 56.1,450.2 58.9,450.2" fill="#111"/>
<polygon points="57.5,472.4 56.1,477.59999999999997 58.9,477.59999999999997" fill="#111"/>
<text xml:space="preserve" x="0" y="0" font-size="6" font-weight="normal" fill="#222" stroke="#222" stroke-width="0.15" transform="translate(32.3,484) rotate(-90)">L</text>
<text xml:space="preserve" x="0" y="0" font-size="5.5" font-weight="normal" fill="#222" stroke="#222" stroke-width="0.15" transform="translate(54.9,465.3) rotate(-90)">3</text>
<path d="M73.3,343 L84.4,337.3 L128.7,337.3 A39.5,39.5 0 0 1 73.3,384.3 Z" fill="url(#hf2)" stroke="none"/>
<path d="M103,348 L130.5,348 A39.5,39.5 0 0 1 103,386.6 Z" fill="#fff"/>
<path d="M115.3,337.3 L128.7,337.3 A39.5,39.5 0 0 1 130.5,348 L115.3,348 Z" fill="#fff"/>
<path d="M73.3,343 L84.4,337.3 L128.7,337.3 A39.5,39.5 0 0 1 73.3,384.3 Z" fill="none" stroke="#1c1c1c" stroke-width="1.1"/>
<line x1="103.0" y1="348.0" x2="103.0" y2="387.0" stroke="#1c1c1c" stroke-width="1.6"/>
<line x1="103.0" y1="348.0" x2="130.5" y2="348.0" stroke="#1c1c1c" stroke-width="1.6"/>
<line x1="115.3" y1="337.3" x2="115.3" y2="348.0" stroke="#1c1c1c" stroke-width="0.8"/>
<line x1="115.3" y1="341.0" x2="129.5" y2="341.0" stroke="#1c1c1c" stroke-width="0.8"/>
<text xml:space="preserve" x="94.5" y="325.8" font-size="3.6" font-weight="normal" fill="#222" stroke="#222" stroke-width="0.15" textLength="14.8" lengthAdjust="spacingAndGlyphs" >STYLE 1</text>
<text xml:space="preserve" x="93.8" y="330.6" font-size="3.6" font-weight="normal" fill="#222" stroke="#222" stroke-width="0.15" textLength="18.7" lengthAdjust="spacingAndGlyphs" >Style 20 : 1</text>
<path d="M543.9,340.5 L561.2,340.5 L572.2,347 A36.2,36.2 0 0 1 543.9,382.3 Z" fill="url(#hf2)"/>
<path d="M500.4,340.5 L561.2,340.5 L572.2,347 A36.2,36.2 0 1 1 500.4,340.5 Z" fill="none" stroke="#1c1c1c" stroke-width="1.1"/>
<line x1="543.9" y1="340.5" x2="543.9" y2="382.0" stroke="#1c1c1c" stroke-width="1.8"/>
<text xml:space="preserve" x="528.3" y="323.2" font-size="3.6" font-weight="normal" fill="#222" stroke="#222" stroke-width="0.15" textLength="14.7" lengthAdjust="spacingAndGlyphs" >STYLE 2</text>
<text xml:space="preserve" x="526.7" y="328.2" font-size="3.6" font-weight="normal" fill="#222" stroke="#222" stroke-width="0.15" textLength="18.3" lengthAdjust="spacingAndGlyphs" >Style 20 : 1</text>
<circle cx="135" cy="398.8" r="9.25" fill="none" stroke="#1c1c1c" stroke-width="0.9"/>
<circle cx="308.1" cy="398.1" r="8.9" fill="none" stroke="#1c1c1c" stroke-width="0.9"/>
<text xml:space="preserve" x="143" y="391.8" font-size="3.5" font-weight="normal" fill="#222" stroke="#222" stroke-width="0.1" >1</text>
<text xml:space="preserve" x="316.5" y="392.5" font-size="3.5" font-weight="normal" fill="#222" stroke="#222" stroke-width="0.1" >2</text>
<line x1="88.5" y1="417.8" x2="105.0" y2="462.0" stroke="#1c1c1c" stroke-width="1.1"/>
<line x1="112.4" y1="535.0" x2="88.3" y2="507.4" stroke="#1c1c1c" stroke-width="1.1"/>
<line x1="116.3" y1="341.3" x2="191.3" y2="335.0" stroke="#1c1c1c" stroke-width="1.1"/>
<line x1="120.0" y1="363.8" x2="219.0" y2="344.4" stroke="#1c1c1c" stroke-width="1.1"/>
<line x1="200.6" y1="326.7" x2="137.6" y2="421.0" stroke="#1c1c1c" stroke-width="1.1"/>
<line x1="220.0" y1="344.4" x2="168.8" y2="415.0" stroke="#1c1c1c" stroke-width="1.1"/>
<line x1="265.0" y1="327.8" x2="309.4" y2="408.8" stroke="#1c1c1c" stroke-width="1.1"/>
<line x1="234.4" y1="351.7" x2="291.3" y2="401.9" stroke="#1c1c1c" stroke-width="1.1"/>
<line x1="147.5" y1="371.3" x2="139.5" y2="389.0" stroke="#1c1c1c" stroke-width="1.1"/>
<line x1="342.5" y1="348.8" x2="314.0" y2="388.0" stroke="#1c1c1c" stroke-width="1.1"/>
<line x1="218.9" y1="371.0" x2="210.9" y2="450.0" stroke="#1c1c1c" stroke-width="1.1"/>
<line x1="236.7" y1="378.9" x2="239.0" y2="451.0" stroke="#1c1c1c" stroke-width="1.1"/>
<line x1="350.5" y1="371.3" x2="333.0" y2="463.0" stroke="#1c1c1c" stroke-width="1.1"/>
<line x1="409.5" y1="345.5" x2="357.5" y2="443.0" stroke="#1c1c1c" stroke-width="1.1"/>
<line x1="440.0" y1="370.0" x2="398.9" y2="428.7" stroke="#1c1c1c" stroke-width="1.1"/>
<line x1="485.7" y1="378.0" x2="450.3" y2="432.0" stroke="#1c1c1c" stroke-width="1.1"/>
<line x1="485.7" y1="378.0" x2="450.9" y2="441.5" stroke="#1c1c1c" stroke-width="1.1"/>
<line x1="483.0" y1="435.3" x2="471.3" y2="465.8" stroke="#1c1c1c" stroke-width="1.1"/>
<line x1="481.8" y1="537.0" x2="463.0" y2="510.0" stroke="#1c1c1c" stroke-width="1.1"/>
<line x1="328.0" y1="537.4" x2="315.6" y2="515.3" stroke="#1c1c1c" stroke-width="1.1"/>
<line x1="537.7" y1="400.0" x2="530.0" y2="375.4" stroke="#1c1c1c" stroke-width="1.1"/>
<line x1="556.5" y1="329.0" x2="552.8" y2="346.8" stroke="#1c1c1c" stroke-width="1.1"/>
<polygon points="139.2,389.8 138.6,384.5 141.6,385.5" fill="#111"/>
<polygon points="313.6,388.6 314.2,383.2 316.8,385" fill="#111"/>
<text xml:space="preserve" x="201.1" y="330.2" font-size="5.8" font-weight="normal" fill="#1e2430" stroke="#1e2430" stroke-width="0.3" textLength="63.3" lengthAdjust="spacingAndGlyphs" >Verriegelungsschraube /</text>
<text xml:space="preserve" x="201.1" y="336.9" font-size="5.8" font-weight="normal" fill="#1e2430" stroke="#1e2430" stroke-width="0.3" textLength="27.8" lengthAdjust="spacingAndGlyphs" >metal shell</text>
<text xml:space="preserve" x="221.7" y="348" font-size="5.8" font-weight="normal" fill="#1e2430" stroke="#1e2430" stroke-width="0.3" textLength="33.3" lengthAdjust="spacingAndGlyphs" >M12 Messer /</text>
<text xml:space="preserve" x="221.7" y="354.6" font-size="5.8" font-weight="normal" fill="#1e2430" stroke="#1e2430" stroke-width="0.3" textLength="12.2" lengthAdjust="spacingAndGlyphs" >male</text>
<text xml:space="preserve" x="147.5" y="373.3" font-size="5.8" font-weight="normal" fill="#1e2430" stroke="#1e2430" stroke-width="0.3" textLength="15.5" lengthAdjust="spacingAndGlyphs" >Style 1</text>
<text xml:space="preserve" x="218.9" y="374" font-size="5.8" font-weight="normal" fill="#1e2430" stroke="#1e2430" stroke-width="0.3" textLength="21.1" lengthAdjust="spacingAndGlyphs" >O-Ring /</text>
<text xml:space="preserve" x="218.9" y="381" font-size="5.8" font-weight="normal" fill="#1e2430" stroke="#1e2430" stroke-width="0.3" textLength="16.7" lengthAdjust="spacingAndGlyphs" >o-ring</text>
<text xml:space="preserve" x="70.2" y="413" font-size="5.8" font-weight="normal" fill="#1e2430" stroke="#1e2430" stroke-width="0.3" textLength="28" lengthAdjust="spacingAndGlyphs" >Schraube /</text>
<text xml:space="preserve" x="71.8" y="420" font-size="5.8" font-weight="normal" fill="#1e2430" stroke="#1e2430" stroke-width="0.3" textLength="15.7" lengthAdjust="spacingAndGlyphs" >screw</text>
<text xml:space="preserve" x="342.5" y="352" font-size="5.8" font-weight="normal" fill="#1e2430" stroke="#1e2430" stroke-width="0.3" textLength="16.2" lengthAdjust="spacingAndGlyphs" >Style 2</text>
<text xml:space="preserve" x="350.5" y="374" font-size="5.8" font-weight="normal" fill="#1e2430" stroke="#1e2430" stroke-width="0.3" textLength="30.7" lengthAdjust="spacingAndGlyphs" >Frontplatte /</text>
<text xml:space="preserve" x="350.5" y="381" font-size="5.8" font-weight="normal" fill="#1e2430" stroke="#1e2430" stroke-width="0.3" textLength="25.7" lengthAdjust="spacingAndGlyphs" >front plate</text>
<text xml:space="preserve" x="409.5" y="349.6" font-size="5.8" font-weight="normal" fill="#1e2430" stroke="#1e2430" stroke-width="0.3" textLength="56.7" lengthAdjust="spacingAndGlyphs" >Verriegelungsmutter /</text>
<text xml:space="preserve" x="409.5" y="356.4" font-size="5.8" font-weight="normal" fill="#1e2430" stroke="#1e2430" stroke-width="0.3" textLength="28" lengthAdjust="spacingAndGlyphs" >metal shell</text>
<text xml:space="preserve" x="440" y="374.2" font-size="5.8" font-weight="normal" fill="#1e2430" stroke="#1e2430" stroke-width="0.3" textLength="33" lengthAdjust="spacingAndGlyphs" >M12 Buchse /</text>
<text xml:space="preserve" x="440" y="381.3" font-size="5.8" font-weight="normal" fill="#1e2430" stroke="#1e2430" stroke-width="0.3" textLength="17.5" lengthAdjust="spacingAndGlyphs" >female</text>
<text xml:space="preserve" x="486.1" y="381" font-size="5.8" font-weight="normal" fill="#1e2430" stroke="#1e2430" stroke-width="0.3" textLength="21.4" lengthAdjust="spacingAndGlyphs" >O-Ring /</text>
<text xml:space="preserve" x="486.1" y="388" font-size="5.8" font-weight="normal" fill="#1e2430" stroke="#1e2430" stroke-width="0.3" textLength="15.6" lengthAdjust="spacingAndGlyphs" >o-ring</text>
<text xml:space="preserve" x="484.2" y="438" font-size="5.8" font-weight="normal" fill="#1e2430" stroke="#1e2430" stroke-width="0.3" textLength="27.2" lengthAdjust="spacingAndGlyphs" >Schraube /</text>
<text xml:space="preserve" x="484.2" y="445.2" font-size="5.8" font-weight="normal" fill="#1e2430" stroke="#1e2430" stroke-width="0.3" textLength="14.5" lengthAdjust="spacingAndGlyphs" >screw</text>
<text xml:space="preserve" x="537.7" y="403.4" font-size="5.8" font-weight="normal" fill="#1e2430" stroke="#1e2430" stroke-width="0.3" textLength="35.5" lengthAdjust="spacingAndGlyphs" >M 12 Messer /</text>
<text xml:space="preserve" x="537.7" y="410.8" font-size="5.8" font-weight="normal" fill="#1e2430" stroke="#1e2430" stroke-width="0.3" textLength="12.9" lengthAdjust="spacingAndGlyphs" >male</text>
<text xml:space="preserve" x="557" y="331.2" font-size="5.8" font-weight="normal" fill="#1e2430" stroke="#1e2430" stroke-width="0.3" textLength="63.6" lengthAdjust="spacingAndGlyphs" >Verriegelungsschraube /</text>
<text xml:space="preserve" x="557" y="337.8" font-size="5.8" font-weight="normal" fill="#1e2430" stroke="#1e2430" stroke-width="0.3" textLength="29.2" lengthAdjust="spacingAndGlyphs" >metal shell</text>
<text xml:space="preserve" x="112.4" y="539.2" font-size="5.8" font-weight="normal" fill="#1e2430" stroke="#1e2430" stroke-width="0.3" textLength="41.8" lengthAdjust="spacingAndGlyphs" >Abstandshalter /</text>
<text xml:space="preserve" x="112.4" y="546" font-size="5.8" font-weight="normal" fill="#1e2430" stroke="#1e2430" stroke-width="0.3" textLength="16.5" lengthAdjust="spacingAndGlyphs" >spacer</text>
<text xml:space="preserve" x="328" y="540.6" font-size="5.8" font-weight="normal" fill="#1e2430" stroke="#1e2430" stroke-width="0.3" textLength="32.3" lengthAdjust="spacingAndGlyphs" >Leiterplatte /</text>
<text xml:space="preserve" x="328" y="547.5" font-size="5.8" font-weight="normal" fill="#1e2430" stroke="#1e2430" stroke-width="0.3" textLength="10.9" lengthAdjust="spacingAndGlyphs" >PCB</text>
<text xml:space="preserve" x="482.5" y="540" font-size="5.8" font-weight="normal" fill="#1e2430" stroke="#1e2430" stroke-width="0.3" textLength="42.5" lengthAdjust="spacingAndGlyphs" >Abstandshalter /</text>
<text xml:space="preserve" x="482.5" y="546.8" font-size="5.8" font-weight="normal" fill="#1e2430" stroke="#1e2430" stroke-width="0.3" textLength="17.5" lengthAdjust="spacingAndGlyphs" >spacer</text>
<rect x="588.5" y="436.5" width="75.0" height="45.5" fill="#fff" stroke="#1c1c1c" stroke-width="1.3"/>
<line x1="588.5" y1="449.0" x2="663.5" y2="449.0" stroke="#1c1c1c" stroke-width="1.3"/>
<line x1="588.5" y1="461.0" x2="663.5" y2="461.0" stroke="#1c1c1c" stroke-width="1.3"/>
<text xml:space="preserve" x="620" y="446.1" font-size="8.2" font-weight="normal" fill="#222" stroke="#222" stroke-width="0.34" textLength="8.4" lengthAdjust="spacingAndGlyphs" >13</text>
<text xml:space="preserve" x="621.3" y="457.5" font-size="8.2" font-weight="normal" fill="#222" stroke="#222" stroke-width="0.34" >9</text>
<text xml:space="preserve" x="611" y="469.5" font-size="8.2" font-weight="normal" fill="#222" stroke="#222" stroke-width="0.34" textLength="45.3" lengthAdjust="spacingAndGlyphs" >Bauhöhe  L  /</text>
<text xml:space="preserve" x="599" y="479.0" font-size="8.2" font-weight="normal" fill="#222" stroke="#222" stroke-width="0.34" textLength="57.8" lengthAdjust="spacingAndGlyphs" >assembly  height</text>
</svg></body></html>
